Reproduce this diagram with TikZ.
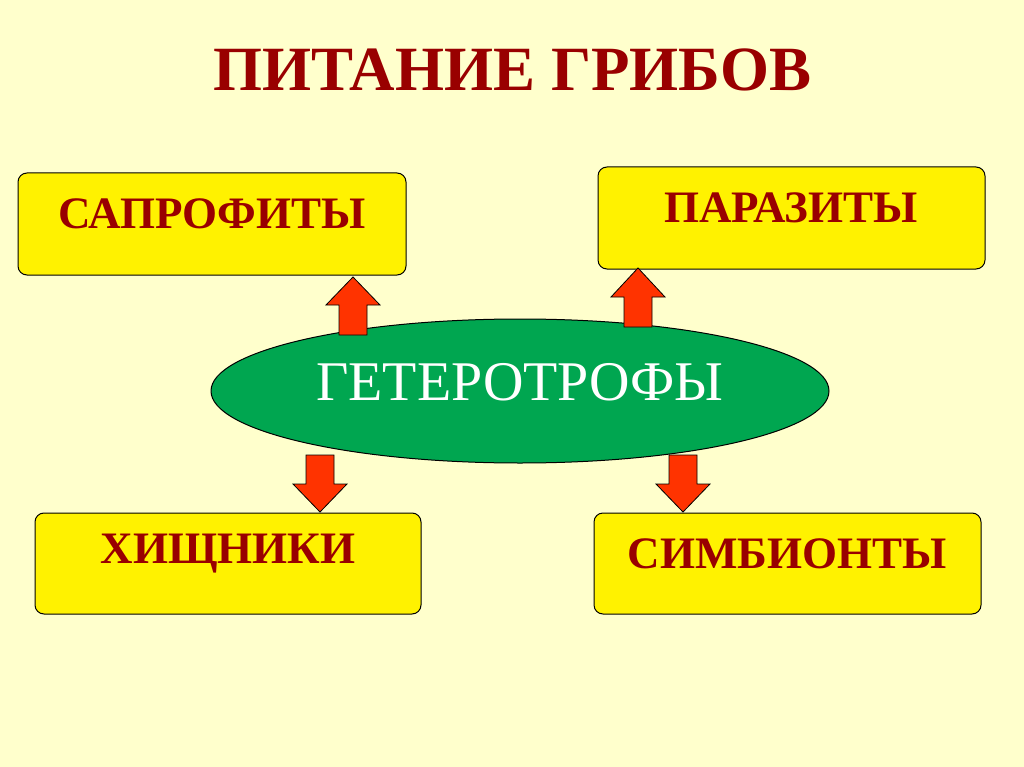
\documentclass[tikz,border=0pt]{standalone}
\usepackage{fontspec}
\setmainfont{Liberation Serif}
\definecolor{bg}{HTML}{FFFFCC}
\definecolor{txt}{HTML}{990000}
\definecolor{grn}{HTML}{00A650}
\definecolor{arr}{HTML}{FF3300}
\begin{document}
\begin{tikzpicture}[x=1pt,y=-1pt,
  box/.style={draw=black,fill=yellow,rounded corners=9pt,line width=1pt},
  lbl/.style={text=txt,font=\bfseries\fontsize{45}{50}\selectfont},
  barrow/.style={draw=black,fill=arr,line width=0.8pt}]
\fill[bg] (0,0) rectangle (1024,767);
\node[text=txt,font=\bfseries\fontsize{63}{68}\selectfont] (title) at (512,70) {ПИТАНИЕ ГРИБОВ};
\draw[box] (18,173) rectangle (406,275);
\node[lbl] (sap) at (212,214) {САПРОФИТЫ};
\draw[box] (598,167) rectangle (985,269);
\node[lbl] (par) at (791,208) {ПАРАЗИТЫ};
\draw[box] (35,513) rectangle (421,614);
\node[lbl] (hish) at (228,554) {ХИЩНИКИ};
\draw[box] (594,513) rectangle (981,614);
\node[lbl] (sim) at (787,554) {СИМБИОНТЫ};
\draw[draw=black,fill=grn,line width=1pt] (520,391) ellipse [x radius=309, y radius=72];
\node[text=white,font=\fontsize{56}{60}\selectfont] (het) at (520,382) {ГЕТЕРОТРОФЫ};
% block arrows
\draw[barrow] (339,335) -- (339,305) -- (326,305) -- (353,277) -- (380,305) -- (367,305) -- (367,335) -- cycle;
\draw[barrow] (624,327) -- (624,297) -- (611,297) -- (638,268) -- (665,297) -- (652,297) -- (652,327) -- cycle;
\draw[barrow] (306,455) -- (306,484) -- (293,484) -- (320,512) -- (347,484) -- (334,484) -- (334,455) -- cycle;
\draw[barrow] (669,455) -- (669,484) -- (656,484) -- (683,512) -- (710,484) -- (697,484) -- (697,455) -- cycle;
\end{tikzpicture}
\end{document}
